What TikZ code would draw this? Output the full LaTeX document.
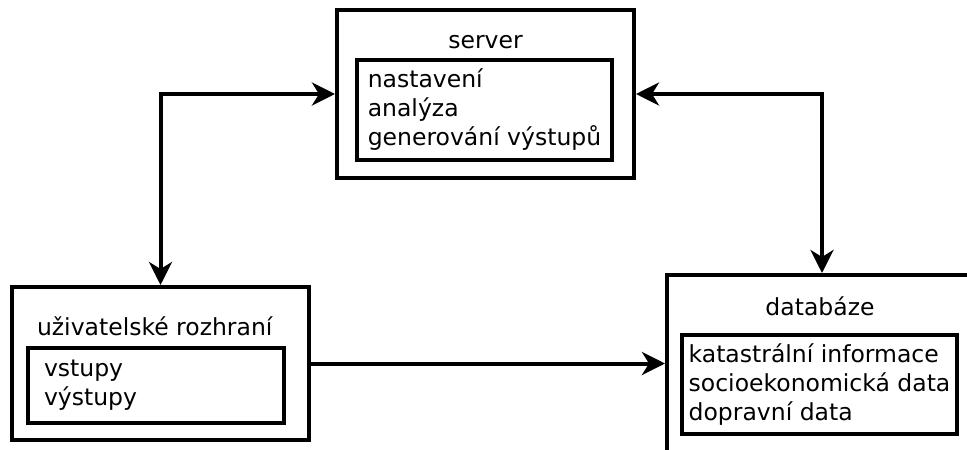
\documentclass[tikz,border=0pt]{standalone}
\usepackage{fontspec}
\setmainfont{DejaVu Sans}
\usetikzlibrary{arrows.meta,positioning}

\begin{document}
\begin{tikzpicture}[x=1pt, y=-1pt, line width=4pt,
                >={Stealth[length=23pt, width=23pt, inset=7pt]},
                font=\fontsize{23.5}{29}\selectfont,
                outerbox/.style={rectangle, draw, inner sep=0pt},
                innerbox/.style={rectangle, draw, inner ysep=0pt, align=left},
                title/.style={inner sep=0pt, anchor=base}
            ]

            \useasboundingbox (0,0) rectangle (967,450);
            \clip (0,0) rectangle (967,450);

            % Server
            \node[outerbox, minimum width=297, minimum height=168] (server) at (485.5,94) {};
            \node[title] (servertitle) at (485.5,48) {server};
            \node[innerbox, minimum width=255, minimum height=100] (serverlist) at (484.5,110)
                {nastavení\\analýza\\generování výstupů};

            % User interface
            \node[outerbox, minimum width=297, minimum height=153] (ui) at (160.5,363.5) {};
            \node[title, anchor=base west] (uititle) at (35,335) {uživatelské rozhraní};
            \node[innerbox, minimum height=75, text width=224, inner xsep=16] (uilist) at (156,385.5)
                {vstupy\\výstupy};

            % Database (runs off the page)
            \node[outerbox, minimum width=310, minimum height=250] (db) at (822,400) {};
            \node[title] (dbtitle) at (820,315) {databáze};
            \node[innerbox, minimum width=275, minimum height=99] (dblist) at (819.5,384.5)
                {katastrální informace\\socioekonomická data\\dopravní data};

            % Connections
            \draw[<->] (ui.north) |- (server.west);
            \draw[<->] (server.east) -| (db.north);
            \draw[->] (ui.east) -- (ui.east -| db.west);

        \end{tikzpicture}
\end{document}
